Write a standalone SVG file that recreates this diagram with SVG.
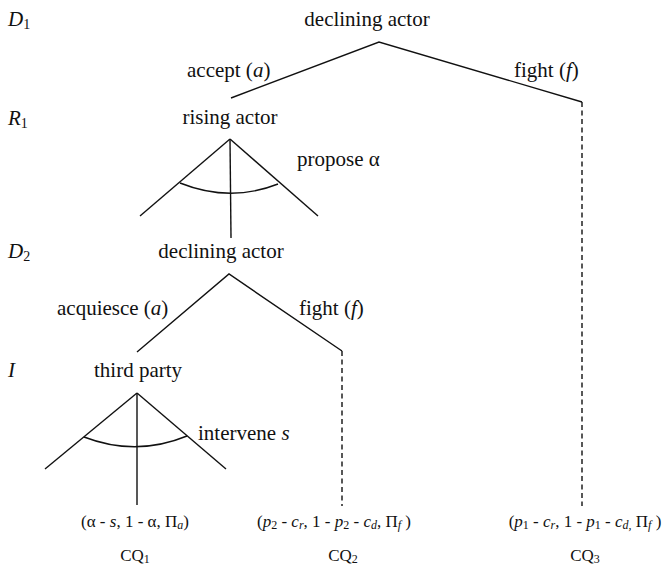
<svg xmlns="http://www.w3.org/2000/svg" width="666" height="569" viewBox="0 0 666 569">
<style>
text{font-family:"Liberation Serif","Times New Roman","DejaVu Serif",serif;fill:#111;}
.n{font-size:21px;text-anchor:middle;}
.lab{font-size:21px;}
.lv{font-size:21px;font-style:italic;}
.p{font-size:17px;text-anchor:middle;}
.i{font-style:italic;}
.e{stroke:#111;stroke-width:1.4;fill:none;}
.d{stroke:#111;stroke-width:1.4;fill:none;stroke-dasharray:5,3.5;}
</style>
<rect width="666" height="569" fill="#fff"/>
<g id="levels">
<text class="lv" x="8" y="26">D<tspan font-style="normal" font-size="14" dy="3">1</tspan></text>
<text class="lv" x="8" y="125">R<tspan font-style="normal" font-size="14" dy="3">1</tspan></text>
<text class="lv" x="8" y="258">D<tspan font-style="normal" font-size="14" dy="3">2</tspan></text>
<text class="lv" x="8" y="377">I</text>
</g>
<g id="connectors">
<polyline class="e" points="231,98 379,42 582,102"/>
<line class="d" x1="582" y1="102" x2="582" y2="506"/>
<line class="e" x1="230" y1="139" x2="140" y2="216"/>
<line class="e" x1="230" y1="139" x2="318" y2="216"/>
<line class="e" x1="230" y1="139" x2="231" y2="238"/>
<path class="e" d="M180,183 Q230,203 278,184"/>
<polyline class="e" points="137,352 229,274 342,351"/>
<line class="d" x1="342" y1="351" x2="342" y2="506"/>
<line class="e" x1="137" y1="393" x2="45" y2="469"/>
<line class="e" x1="137" y1="393" x2="226" y2="469"/>
<line class="e" x1="137" y1="393" x2="137" y2="505"/>
<path class="e" d="M84,437 Q136,457 187,436"/>
</g>
<g id="node-d1"><text class="n" x="367" y="26">declining actor</text></g>
<g id="label-accept"><text class="lab" x="187" y="77">accept (<tspan class="i">a</tspan>)</text></g>
<g id="label-fight1"><text class="lab" x="514" y="77">fight (<tspan class="i">f</tspan>)</text></g>
<g id="node-r1"><text class="n" x="230" y="124">rising actor</text></g>
<g id="label-propose"><text class="lab" x="297" y="166">propose α</text></g>
<g id="node-d2"><text class="n" x="221" y="258">declining actor</text></g>
<g id="label-acquiesce"><text class="lab" x="57" y="315">acquiesce (<tspan class="i">a</tspan>)</text></g>
<g id="label-fight2"><text class="lab" x="299" y="315">fight (<tspan class="i">f</tspan>)</text></g>
<g id="node-i"><text class="n" x="138" y="377">third party</text></g>
<g id="label-intervene"><text class="lab" x="198" y="440">intervene <tspan class="i">s</tspan></text></g>
<g id="outcome-cq1">
<text class="p" x="135" y="527">(α - <tspan class="i">s</tspan>, 1 - α, Π<tspan class="i" font-size="12" dy="2">a</tspan><tspan dy="-2">)</tspan></text>
<text class="p" x="135" y="561">CQ<tspan font-size="12" dy="2">1</tspan></text>
</g>
<g id="outcome-cq2">
<text class="p" x="334" y="527">(<tspan class="i">p</tspan><tspan font-size="12" dy="2">2</tspan><tspan dy="-2"> - </tspan><tspan class="i">c</tspan><tspan class="i" font-size="12" dy="2">r</tspan><tspan dy="-2">, 1 - </tspan><tspan class="i">p</tspan><tspan font-size="12" dy="2">2</tspan><tspan dy="-2"> - </tspan><tspan class="i">c</tspan><tspan class="i" font-size="12" dy="2">d</tspan><tspan dy="-2">, Π</tspan><tspan class="i" font-size="12" dy="2">f</tspan><tspan dy="-2"> )</tspan></text>
<text class="p" x="343" y="561">CQ<tspan font-size="12" dy="2">2</tspan></text>
</g>
<g id="outcome-cq3">
<text class="p" x="585" y="527">(<tspan class="i">p</tspan><tspan font-size="12" dy="2">1</tspan><tspan dy="-2"> - </tspan><tspan class="i">c</tspan><tspan class="i" font-size="12" dy="2">r</tspan><tspan dy="-2">, 1 - </tspan><tspan class="i">p</tspan><tspan font-size="12" dy="2">1</tspan><tspan dy="-2"> - </tspan><tspan class="i">c</tspan><tspan class="i" font-size="12" dy="2">d,</tspan><tspan dy="-2"> Π</tspan><tspan class="i" font-size="12" dy="2">f</tspan><tspan dy="-2"> )</tspan></text>
<text class="p" x="585" y="561">CQ<tspan font-size="12" dy="2">3</tspan></text>
</g>
</svg>
